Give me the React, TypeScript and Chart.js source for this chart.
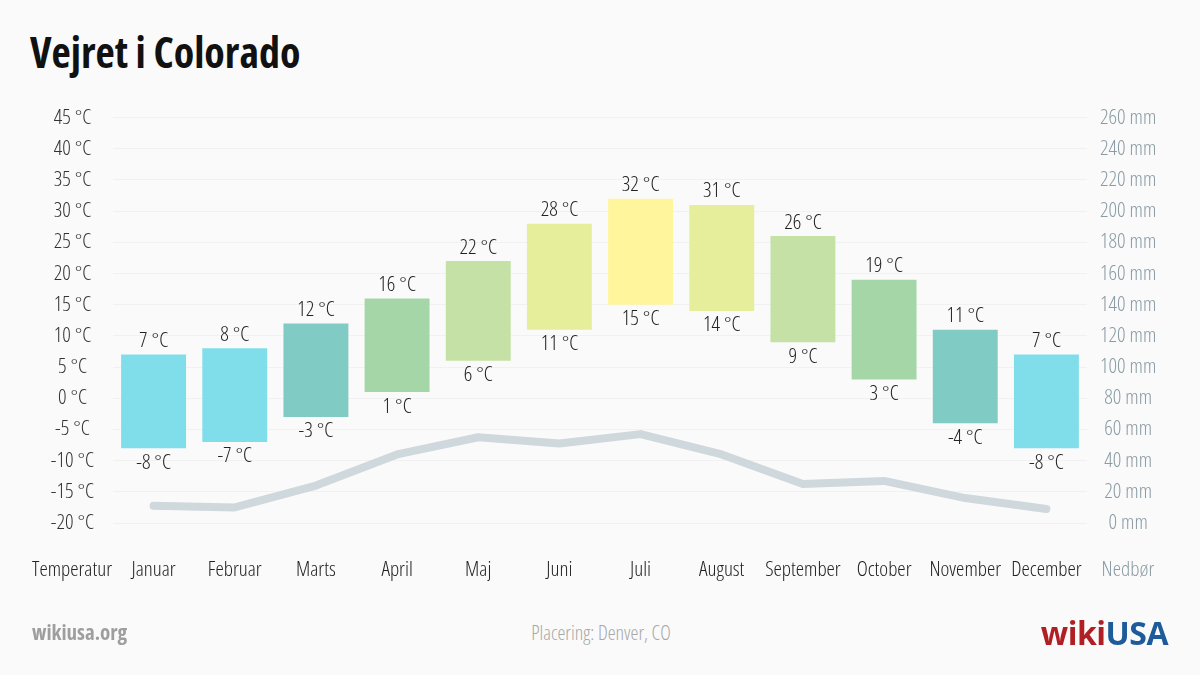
import React, { useEffect, useRef } from "react";
import { Chart, registerables } from "chart.js";

Chart.register(...registerables);

const months = ["Januar", "Februar", "Marts", "April", "Maj", "Juni", "Juli", "August", "September", "October", "November", "December"];
const tempHigh = [7, 8, 12, 16, 22, 28, 32, 31, 26, 19, 11, 7];
const tempLow = [-8, -7, -3, 1, 6, 11, 15, 14, 9, 3, -4, -8];
const precipitation = [11, 10, 24, 44, 55, 51, 57, 44, 25, 27, 16, 9];
const barColors = ["#80deea", "#80deea", "#80cbc4", "#a5d6a7", "#c5e1a5", "#e6ee9c", "#fff59d", "#e6ee9c", "#c5e1a5", "#a5d6a7", "#80cbc4", "#80deea"];

const FAMILY = "'Open Sans', 'DejaVu Sans Condensed', sans-serif";
const COND = "300 condensed";
const FS = 21;

const labelPlugin = {
  id: "barLabels",
  afterDatasetsDraw(chart: any) {
    const ctx = chart.ctx;
    const y = chart.scales.y;
    const meta = chart.getDatasetMeta(0);
    ctx.save();
    ctx.font = `${COND} ${FS}px ${FAMILY}`;
    ctx.fillStyle = "#222";
    ctx.textAlign = "center";
    meta.data.forEach((el: any, i: number) => {
      const x = el.x;
      ctx.textBaseline = "bottom";
      ctx.fillText(`${tempHigh[i]} °C`, x, y.getPixelForValue(tempHigh[i]) - 3);
      ctx.textBaseline = "top";
      ctx.fillText(`${tempLow[i]} °C`, x, y.getPixelForValue(tempLow[i]) + 4);
    });
    ctx.restore();
  },
};

export default function App() {
  const ref = useRef<HTMLCanvasElement>(null);
  useEffect(() => {
    const chart = new Chart(ref.current!, {
      type: "bar",
      data: {
        labels: months,
        datasets: [
          {
            type: "bar",
            label: "Temperatur",
            data: tempLow.map((l, i) => [l, tempHigh[i]]),
            backgroundColor: barColors,
            barPercentage: 0.8,
            categoryPercentage: 1,
            yAxisID: "y",
            order: 1,
          } as any,
          {
            type: "line",
            label: "Nedbør",
            data: precipitation,
            borderColor: "#cfd8dc",
            borderWidth: 8,
            pointRadius: 0,
            borderCapStyle: "round",
            borderJoinStyle: "round",
            tension: 0,
            yAxisID: "y2",
            order: 2,
          } as any,
        ],
      },
      options: {
        animation: false,
        responsive: false,
        maintainAspectRatio: false,
        layout: { padding: { top: 4, bottom: 0, left: 0, right: 0 } },
        plugins: { legend: { display: false }, tooltip: { enabled: false } },
        scales: {
          x: {
            grid: { display: false, drawTicks: false },
            border: { display: false },
            ticks: { font: { family: FAMILY, size: FS, weight: COND as any }, color: "#222", padding: 34, maxRotation: 0 },
            afterFit: (s: any) => { s.height = 79; },
          },
          y: {
            position: "left",
            min: -20,
            max: 45,
            ticks: {
              stepSize: 5,
              crossAlign: "center",
              padding: 19,
              font: { family: FAMILY, size: FS, weight: COND as any },
              color: "#333",
              callback: (v: any) => `${v} °C`,
            },
            grid: { color: "rgba(0,0,0,0.035)", drawTicks: false },
            border: { display: false },
            afterFit: (s: any) => { s.width = 113; },
          },
          y2: {
            position: "right",
            min: 0,
            max: 260,
            ticks: {
              stepSize: 20,
              crossAlign: "center",
              padding: 13,
              font: { family: FAMILY, size: FS, weight: COND as any },
              color: "#8a9ba3",
              callback: (v: any) => `${v} mm`,
            },
            grid: { display: false, drawTicks: false },
            border: { display: false },
            afterFit: (s: any) => { s.width = 113; },
          },
        },
      },
      plugins: [labelPlugin],
    });
    return () => chart.destroy();
  }, []);

  const cond: React.CSSProperties = { fontFamily: FAMILY, fontStretch: "condensed" };
  return (
    <div style={{ position: "absolute", left: 0, top: 0, width: 1200, height: 675, background: "#fafafa", overflow: "hidden" }}>
      <div style={{ ...cond, position: "absolute", left: 30, top: 23, fontSize: 42, fontWeight: 700, color: "#111", whiteSpace: "nowrap" }}>
        Vejret i Colorado
      </div>
      <canvas ref={ref} width={1200} height={516} style={{ position: "absolute", left: 0, top: 86, width: 1200, height: 516 }} />
      <div style={{ ...cond, position: "absolute", left: 72, top: 568, transform: "translate(-50%,-50%)", fontSize: FS, fontWeight: 300, color: "#222", whiteSpace: "nowrap" }}>
        Temperatur
      </div>
      <div style={{ ...cond, position: "absolute", left: 1128, top: 568, transform: "translate(-50%,-50%)", fontSize: FS, fontWeight: 300, color: "#8a9ba3", whiteSpace: "nowrap" }}>
        Nedbør
      </div>
      <div style={{ ...cond, position: "absolute", left: 32, top: 632, transform: "translateY(-50%)", fontSize: 21, fontWeight: 700, color: "#9e9e9e", whiteSpace: "nowrap" }}>
        wikiusa.org
      </div>
      <div style={{ ...cond, position: "absolute", left: 601, top: 632, transform: "translate(-50%,-50%)", fontSize: 20, fontWeight: 300, color: "#a8a8a8", whiteSpace: "nowrap" }}>
        Placering: Denver, CO
      </div>
      <div style={{ fontFamily: FAMILY, position: "absolute", right: 32, top: 632, transform: "translateY(-50%)", fontSize: 32, fontWeight: 700, whiteSpace: "nowrap", letterSpacing: -0.5 }}>
        <span style={{ color: "#b01f24" }}>wiki</span>
        <span style={{ color: "#1d5b9a" }}>USA</span>
      </div>
    </div>
  );
}
